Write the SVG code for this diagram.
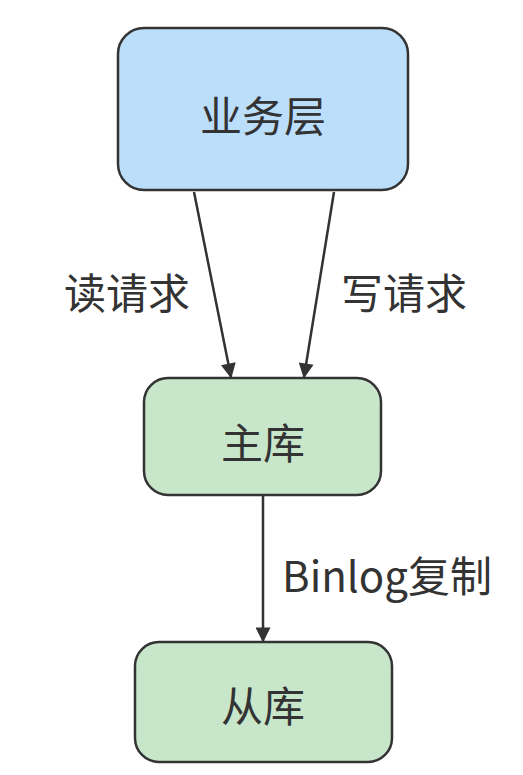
<svg xmlns="http://www.w3.org/2000/svg" width="523" height="775" viewBox="0 0 523 775">
<style>
.box{stroke:#333;stroke-width:2.5}
.t{font-family:"Noto Sans CJK SC","Noto Sans",sans-serif;font-size:42px;fill:#333;text-anchor:middle;dominant-baseline:central}
.c{stroke:#333;stroke-width:2.5;fill:none;marker-end:url(#ah)}
</style>
<defs>
<marker id="ah" viewBox="0 0 10 10" refX="9" refY="5" markerWidth="6.5" markerHeight="6" markerUnits="strokeWidth" orient="auto">
<path d="M0,0 L10,5 L0,10 Z" fill="#333"/>
</marker>
</defs>
<rect width="523" height="775" fill="#fff"/>
<g id="connectors">
<line class="c" x1="194" y1="192" x2="231" y2="377"/>
<line class="c" x1="334" y1="192" x2="304" y2="377"/>
<line class="c" x1="263" y1="495" x2="263" y2="641"/>
<text class="t" x="127" y="290">读请求</text>
<text class="t" x="404" y="290">写请求</text>
<text class="t" x="387" y="573">Binlog复制</text>
</g>
<g id="business">
<rect class="box" x="118" y="28" width="290" height="162" rx="26" fill="#bbdefb"/>
<text class="t" x="263" y="113">业务层</text>
</g>
<g id="master">
<rect class="box" x="144" y="378" width="237" height="117" rx="24" fill="#c8e6c9"/>
<text class="t" x="263" y="440">主库</text>
</g>
<g id="slave">
<rect class="box" x="135" y="642" width="257" height="120" rx="24" fill="#c8e6c9"/>
<text class="t" x="263" y="703">从库</text>
</g>
</svg>
